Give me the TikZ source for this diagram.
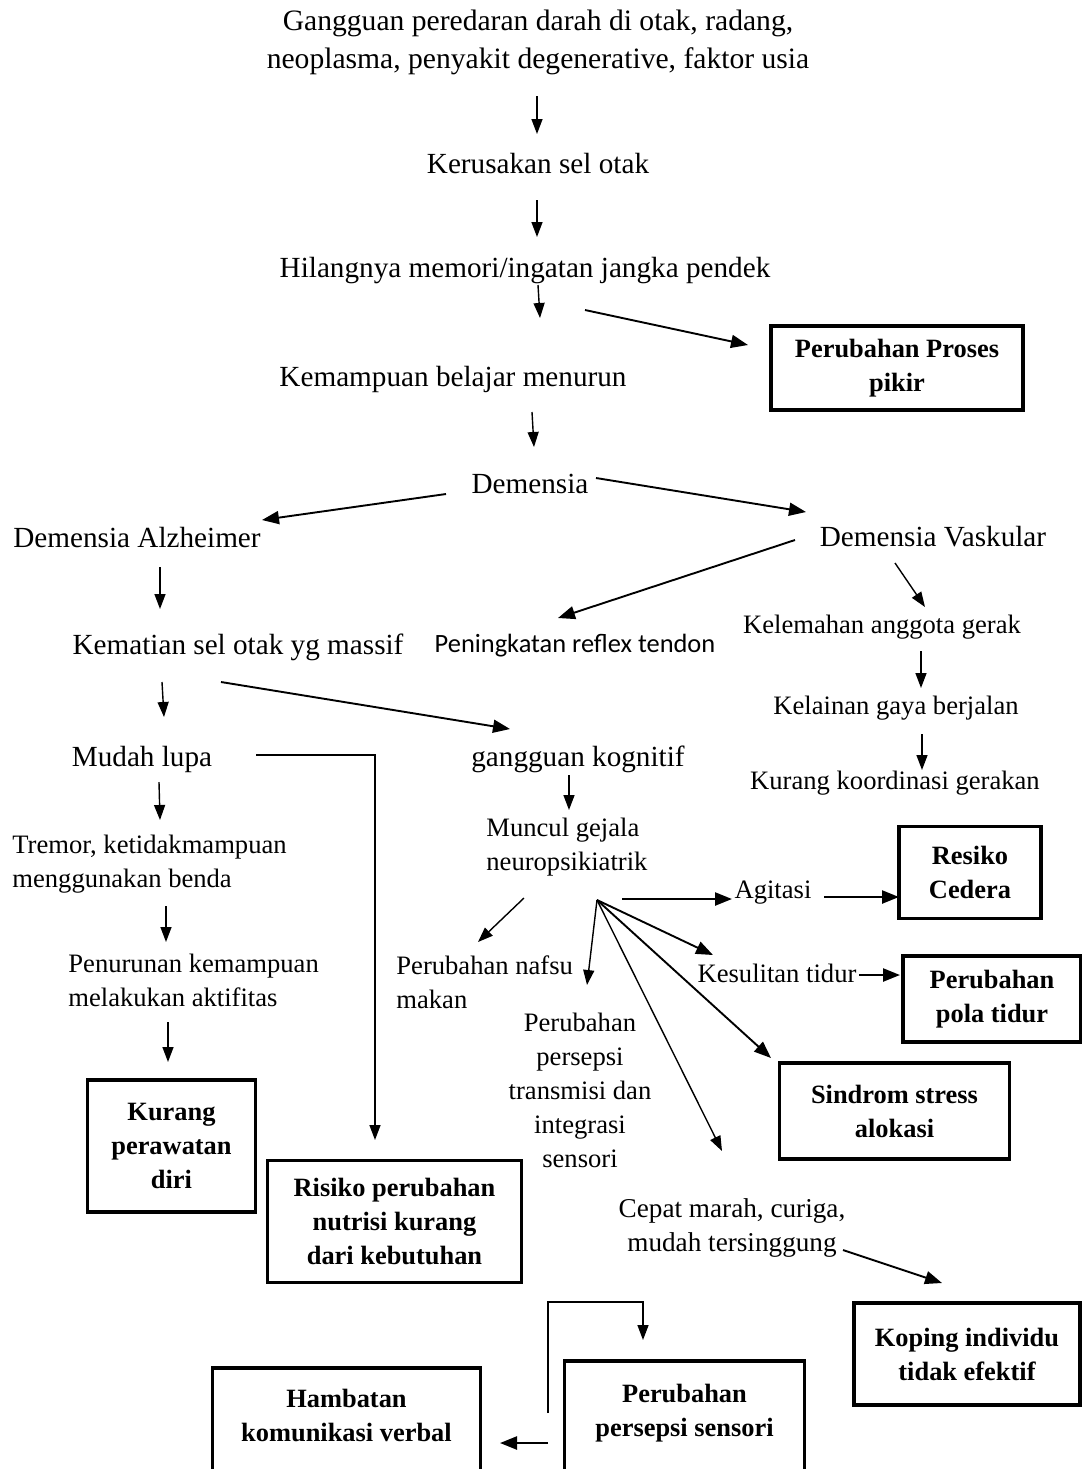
\documentclass[tikz,border=0pt]{standalone}
\usepackage{fontspec}
\setmainfont{Liberation Serif}
\newfontfamily\calib{Carlito}
\usetikzlibrary{arrows.meta}
\begin{document}
\begin{tikzpicture}[x=0.5pt,y=-0.5pt,
  main/.style={font=\fontsize{14.6}{19}\selectfont, inner sep=0, align=center},
  small/.style={font=\fontsize{13.3}{17}\selectfont, inner sep=0, align=center},
  smallL/.style={font=\fontsize{13.3}{17}\selectfont, inner sep=0, align=left, anchor=west},
  bx/.style={draw, line width=1.6pt, font=\bfseries\fontsize{13.2}{17}\selectfont, align=center, inner sep=0},
  arr/.style={line width=0.7pt, -{Triangle[length=7.5pt,width=5.5pt]}},
  arrm/.style={line width=0.95pt, -{Triangle[length=8.5pt,width=6.5pt]}},
  arrb/.style={line width=1.2pt, -{Triangle[length=8.5pt,width=6.5pt]}}
]
\useasboundingbox (0,0) rectangle (1082,1469);
\clip (0,0) rectangle (1082,1469);
\fill[white] (0,0) rectangle (1082,1469);

% text nodes
\node[main, font=\fontsize{14.8}{19}\selectfont] (t1) at (538,42) {Gangguan peredaran darah di otak, radang,\\neoplasma, penyakit degenerative, faktor usia};
\node[main] (t2) at (538,164) {Kerusakan sel otak};
\node[main] (t3) at (525,271) {Hilangnya memori/ingatan jangka pendek};
\node[main] (t4) at (453,379) {Kemampuan belajar menurun};
\node[main] (t5) at (530,484) {Demensia};
\node[main] (t6) at (137,537) {Demensia Alzheimer};
\node[main] (t7) at (933,537) {Demensia Vaskular};
\node[inner sep=0, font=\calib\fontsize{13.2}{17}\selectfont] (t8) at (575,646) {Peningkatan reflex tendon};
\node[small] (t9) at (882,627) {Kelemahan anggota gerak};
\node[main] (t10) at (238,647) {Kematian sel otak yg massif};
\node[small] (t11) at (896,708) {Kelainan gaya berjalan};
\node[main] (t12) at (142,759) {Mudah lupa};
\node[main] (t13) at (578,759) {gangguan kognitif};
\node[small] (t14) at (895,783) {Kurang koordinasi gerakan};
\node[smallL] (t15) at (486,847) {Muncul gejala\\neuropsikiatrik};
\node[smallL] (t16) at (12,864) {Tremor, ketidakmampuan\\menggunakan benda};
\node[small] (t17) at (773,893) {Agitasi};
\node[smallL] (t18) at (68,980) {Penurunan kemampuan\\melakukan aktifitas};
\node[smallL] (t19) at (396,982) {Perubahan nafsu\\makan};
\node[small] (t20) at (777,973) {Kesulitan tidur};
\node[small] (t21) at (580,1090) {Perubahan\\persepsi\\transmisi dan\\integrasi\\sensori};
\node[small, font=\fontsize{13.6}{17}\selectfont] (t22) at (732,1228) {Cepat marah, curiga,\\mudah tersinggung};

% boxes
\node[bx, minimum width=126pt, minimum height=42pt] (bA) at (897,368) {Perubahan Proses\\pikir};
\node[bx, minimum width=71pt, minimum height=46pt] (bB) at (970,872.5) {Resiko\\Cedera};
\node[bx, minimum width=89pt, minimum height=43pt] (bC) at (992,999) {Perubahan\\pola tidur};
\node[bx, minimum width=115pt, minimum height=48pt] (bD) at (894.5,1111) {Sindrom stress\\alokasi};
\node[bx, minimum width=84pt, minimum height=66pt] (bE) at (171.5,1146) {Kurang\\perawatan\\diri};
\node[bx, minimum width=127pt, minimum height=61pt] (bF) at (394.5,1221.5) {Risiko perubahan\\nutrisi kurang\\dari kebutuhan};
\node[bx, minimum width=113pt, minimum height=51pt] (bG) at (967,1354) {Koping individu\\tidak efektif};
\node[bx, minimum width=134pt, minimum height=56pt] (bH) at (346.5,1424) {Hambatan\\komunikasi verbal\\[-8pt]};
\node[bx, minimum width=120pt, minimum height=57pt] (bI) at (684.5,1418) {Perubahan\\persepsi sensori\\[-9.5pt]};

% arrows
\draw[arr] ([shift={(-1,54)}]t1.center) -- ([shift={(-1,-30)}]t2.center);
\draw[arr] ([shift={(-1,36)}]t2.center) -- ([shift={(12,-34)}]t3.center);
\draw[arr] ([shift={(13,14)}]t3.center) -- ([shift={(87,-61)}]t4.center);
\draw[arrm] ([shift={(60,39)}]t3.center) -- ([shift={(-149,-23)}]bA.center);
\draw[arr] ([shift={(79,33)}]t4.center) -- ([shift={(4,-37)}]t5.center);
\draw[arrm] ([shift={(-84,10)}]t5.center) -- ([shift={(125,-17)}]t6.center);
\draw[arrm] ([shift={(66,-6)}]t5.center) -- ([shift={(-127,-25)}]t7.center);
\draw[arrm] ([shift={(-138,3)}]t7.center) -- ([shift={(-17,-28)}]t8.center);
\draw[arr] ([shift={(-38,26)}]t7.center) -- ([shift={(43,-20)}]t9.center);
\draw[arr] ([shift={(23,30)}]t6.center) -- ([shift={(-78,-38)}]t10.center);
\draw[arr] ([shift={(39,24)}]t9.center) -- ([shift={(25,-20)}]t11.center);
\draw[arr] ([shift={(-76,35)}]t10.center) -- ([shift={(22,-42)}]t12.center);
\draw[arrm] ([shift={(-17,35)}]t10.center) -- ([shift={(-68,-30)}]t13.center);
\draw[arr] ([shift={(26,26)}]t11.center) -- ([shift={(27,-13)}]t14.center);
\draw[arr] ([shift={(114,-4)}]t12.center) -| ([shift={(-19.5,-81.5)}]bF.center);
\draw[arr] ([shift={(17,23)}]t12.center) -- ([shift={(148,-44)}]t16.west);
\draw[arr] ([shift={(-9,16)}]t13.center) -- ([shift={(83,-37)}]t15.west);
\draw[arr] ([shift={(154,42)}]t16.west) -- ([shift={(98,-38)}]t18.west);
\draw[arr] ([shift={(100,42)}]t18.west) -- ([shift={(-3.5,-84)}]bE.center);
\draw[arr] ([shift={(38,51)}]t15.west) -- ([shift={(82,-40)}]t19.west);
\coordinate (hub) at ([shift={(111,53)}]t15.west);
\draw[arr] (hub) -- ([shift={(7,-105)}]t21.center);
\draw[arrm] (hub) -- ([shift={(-64,-18)}]t20.center);
\draw[arrm] (hub) -- ([shift={(-123.5,-53)}]bD.center);
\draw[arr] (hub) -- ([shift={(-10,-77)}]t22.center);
\draw[arrb] ([shift={(136,52)}]t15.west) -- ([shift={(-41,6)}]t17.center);
\draw[arrb] ([shift={(51,4)}]t17.center) -- ([shift={(-71,24.5)}]bB.center);
\draw[arrb] ([shift={(82,2)}]t20.center) -- ([shift={(-92,-24)}]bC.center);
\draw[arrm] ([shift={(111,22)}]t22.center) -- ([shift={(-25,-71)}]bG.center);
\draw[arrb] ([shift={(-136.5,25)}]bI.center) -- ([shift={(153.5,19)}]bH.center);
\draw[arr] ([shift={(-136.5,-5)}]bI.center) -- ++(0,-111) -| ([shift={(-41.5,-78)}]bI.center);
\end{tikzpicture}
\end{document}
